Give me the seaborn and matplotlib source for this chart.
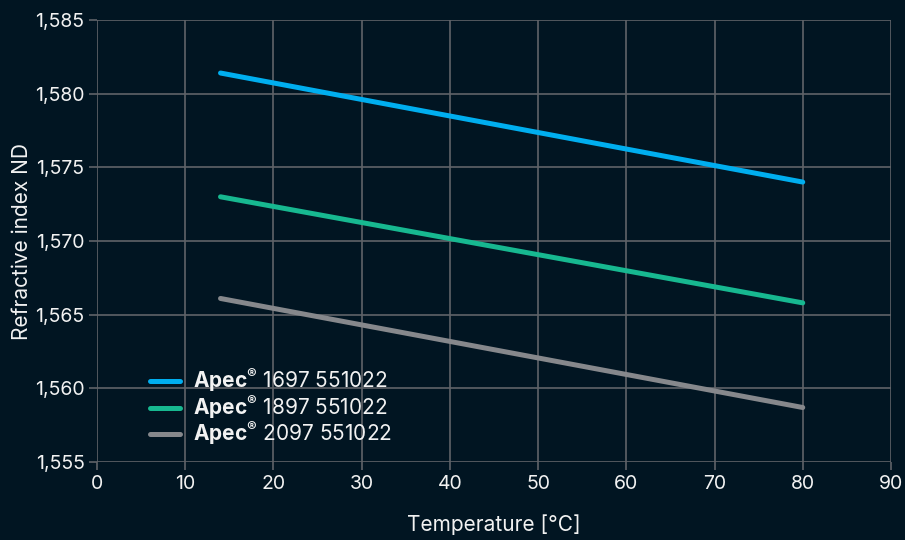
import numpy as np
import pandas as pd
import matplotlib
matplotlib.use("Agg")
import matplotlib.pyplot as plt
import seaborn as sns
from matplotlib.ticker import FuncFormatter, MultipleLocator

# Data
temperature = [14, 80]
apec_1697 = [1.5814, 1.5740]
apec_1897 = [1.5730, 1.5658]
apec_2097 = [1.5661, 1.5587]
series_names = ["1697 551022", "1897 551022", "2097 551022"]
colors = ["#00aeef", "#17b890", "#86888c"]

BG = "#011522"
GRID = "#5f6368"
TEXT = "#f2f2f2"

sns.set_theme(style="dark")
plt.rcParams["font.family"] = ["Inter", "DejaVu Sans"]
plt.rcParams["mathtext.fontset"] = "custom"
plt.rcParams["mathtext.rm"] = "Inter"
plt.rcParams["mathtext.bf"] = "Inter:bold"

df = pd.DataFrame({
    "temp": temperature * 3,
    "nd": apec_1697 + apec_1897 + apec_2097,
    "grade": [series_names[0]] * 2 + [series_names[1]] * 2 + [series_names[2]] * 2,
})

fig = plt.figure(figsize=(9.05, 5.4), dpi=100, facecolor=BG)
ax = fig.add_axes([0.1072, 0.1444, 0.8773, 0.8186])
ax.set_facecolor(BG)

sns.lineplot(data=df, x="temp", y="nd", hue="grade", palette=colors,
             linewidth=3.6, ax=ax, legend=False, solid_capstyle="round")

ax.set_xlim(0, 90)
ax.set_ylim(1.555, 1.585)
ax.xaxis.set_major_locator(MultipleLocator(10))
ax.yaxis.set_major_locator(MultipleLocator(0.005))
ax.yaxis.set_major_formatter(FuncFormatter(lambda v, p: f"{v:.3f}".replace(".", ",")))

ax.grid(True, color=GRID, linewidth=1.2)
ax.set_axisbelow(True)
for s in ax.spines.values():
    s.set_visible(False)
ax.tick_params(axis="both", colors=GRID, labelcolor=TEXT, labelsize=14,
               length=6, width=1.2, direction="out", bottom=True, left=True, pad=3)

ax.set_xlabel("Temperature [°C]", color=TEXT, fontsize=15, labelpad=16)
ax.set_ylabel("Refractive index ND", color=TEXT, fontsize=15, labelpad=2)

handles = [plt.Line2D([], [], color=c, linewidth=3.6) for c in colors]
labels = [r"$\mathbf{Apec^{®}}$ " + n for n in series_names]
leg = ax.legend(handles, labels, loc="upper left", bbox_to_anchor=(0.067, 0.2175),
                frameon=False, fontsize=15, handlelength=1.45, handletextpad=0.6,
                labelspacing=-0.08, borderpad=0, borderaxespad=0)
for t in leg.get_texts():
    t.set_color(TEXT)

fig.savefig("out.png", dpi=100, facecolor=BG)
